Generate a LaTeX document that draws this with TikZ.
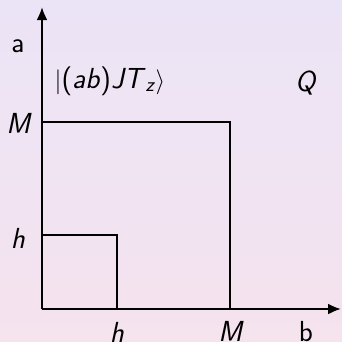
\documentclass[tikz,border=0pt]{standalone}
\usetikzlibrary{arrows.meta}
\begin{document}
\begin{tikzpicture}[x=1pt,y=-1pt,
  lbl/.style={font=\fontsize{29}{34}\selectfont\sffamily, inner sep=0pt},
  axis/.style={line width=2.2pt,-{Latex[length=13pt,width=11pt]}},
  box/.style={line width=2pt}]
\shade[top color={rgb,255:red,235;green,228;blue,246}, bottom color={rgb,255:red,245;green,227;blue,238}] (0,0) rectangle (342,341);
\useasboundingbox (0,0) rectangle (342,341);
\coordinate (O) at (42,309);
\coordinate (ytip) at (42,7);
\coordinate (xtip) at (341,309);
\coordinate (Mx) at (230,309);
\coordinate (My) at (42,122);
\coordinate (MM) at (230,122);
\coordinate (hx) at (117,309);
\coordinate (hy) at (42,235);
\coordinate (hh) at (117,235);
\draw[box] (My) -- (MM) -- (Mx);
\draw[box] (hy) -- (hh) -- (hx);
\draw[axis] (O) -- (ytip);
\draw[axis] (O) -- (xtip);
\node[lbl] (la) at (18,46) {a};
\node[lbl] (lket) at (110,81) {$|$(\textit{ab})\textit{JT}\textsubscript{\textit{z}}$\rangle$};
\node[lbl] (lQ) at (306,83) {\textit{Q}};
\node[lbl] (lMy) at (19,123) {\textit{M}};
\node[lbl] (lhy) at (18,238) {\textit{h}};
\node[lbl] (lhx) at (117,332) {\textit{h}};
\node[lbl] (lMx) at (231,331) {\textit{M}};
\node[lbl] (lb) at (306,332) {b};
\end{tikzpicture}
\end{document}
